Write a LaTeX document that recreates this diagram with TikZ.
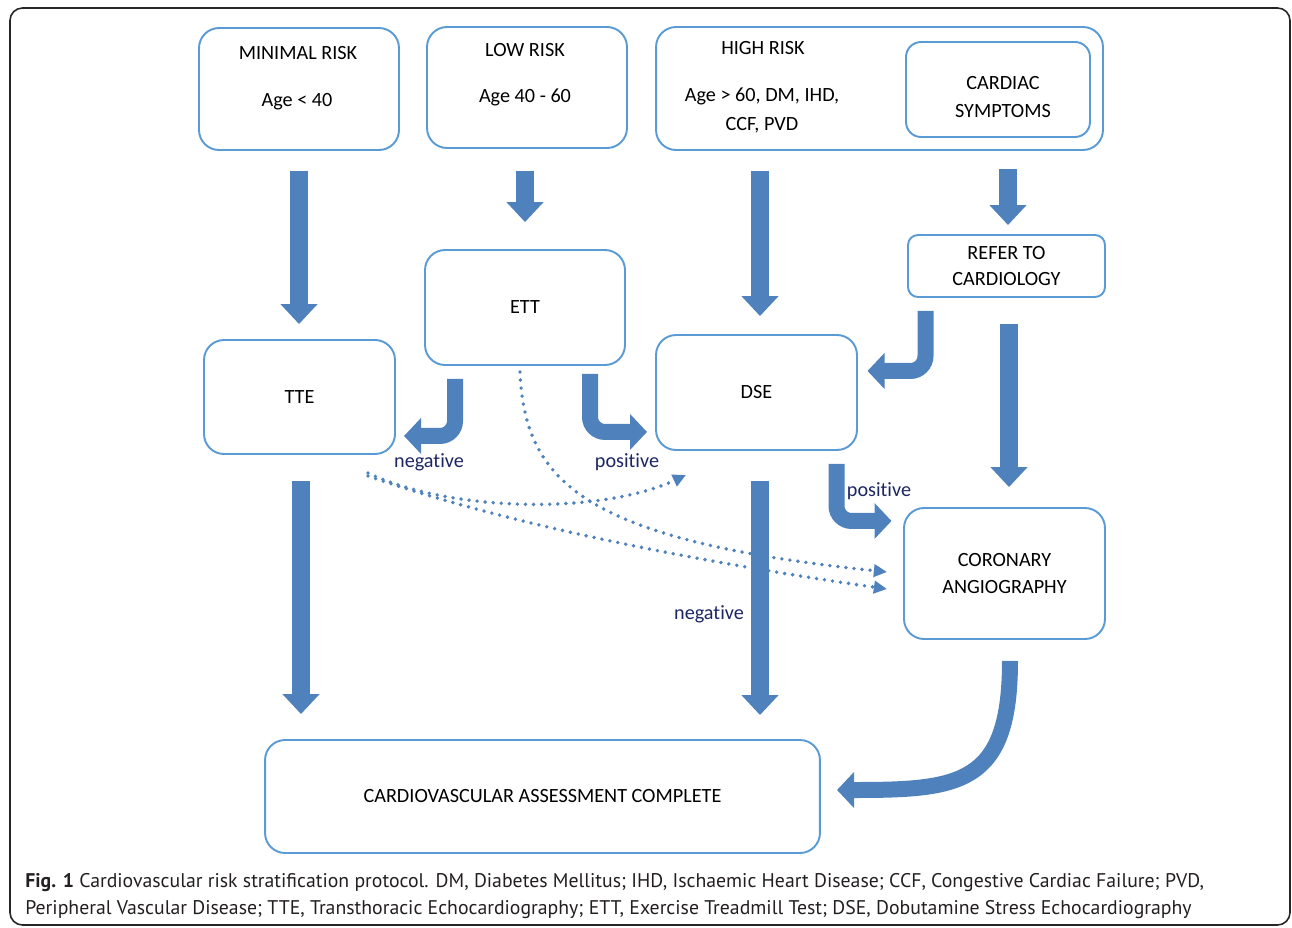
\documentclass[tikz,border=0pt]{standalone}
\usepackage{fontspec}
\setmainfont[Ligatures=NoCommon]{Carlito}
\newfontfamily\capfont{PT Sans}
\usetikzlibrary{arrows.meta}

\definecolor{boxblue}{RGB}{91,155,213}
\definecolor{arrowblue}{RGB}{79,129,189}
\definecolor{labelnavy}{RGB}{28,38,98}
\definecolor{captext}{RGB}{35,31,32}

\tikzset{
	box/.style={draw=boxblue, line width=1.1pt, rounded corners=0.4cm, inner sep=0pt, align=center, font=\fontsize{11.5}{15.5}\selectfont},
	boxtext/.style={inner sep=0pt, anchor=base, font=\fontsize{11.5}{14}\selectfont},
	bigarrow/.style={draw=arrowblue, line width=0.36cm, -{Triangle[length=0.4cm,width=0.72cm]}},
	bentarrow/.style={draw=arrowblue, line width=0.32cm, rounded corners=0.3cm, -{Triangle[length=0.34cm,width=0.7cm]}},
	dotarrow/.style={draw=arrowblue, line width=2.2pt, line cap=round, dash pattern=on 0pt off 4.6pt, -{Triangle[length=7.5pt,width=7pt]}},
	result/.style={text=labelnavy, inner sep=0pt, font=\fontsize{11.5}{14}\selectfont},
}

\begin{document}
\begin{tikzpicture}[x=0.02cm, y=-0.02cm]
	\useasboundingbox (0,0) rectangle (1292,927);
	\draw[line width=0.9pt, draw=black!85, rounded corners=0.25cm] (10,8) rectangle (1290,925);	% Moldura

	% Grupos de risco
	\node[box, minimum width=4cm, minimum height=2.44cm] (minimal) at (299,89) {};
	\node[boxtext] (minimaltitle) at (298,59.5) {MINIMAL RISK};
	\node[boxtext] (minimalage) at (297,106.5) {Age < 40};
	\node[box, minimum width=4cm, minimum height=2.42cm] (low) at (527,87.5) {};
	\node[boxtext] (lowtitle) at (525,56.5) {LOW RISK};
	\node[boxtext] (lowage) at (525,102.5) {Age 40 - 60};
	\node[box, minimum width=8.94cm, minimum height=2.46cm] (high) at (879.5,88.5) {};
	\node[boxtext] (hightitle) at (763,54.5) {HIGH RISK};
	\node[boxtext] (highage) at (762,101.5) {Age > 60, DM, IHD,};
	\node[boxtext] (highcond) at (762,130.5) {CCF, PVD};
	\node[box, rounded corners=0.3cm, minimum width=3.68cm, minimum height=1.9cm] (cardiac) at (998,89.5) {};
	\node[boxtext, anchor=center, align=center, font=\fontsize{11.5}{15.9}\selectfont] (cardiactext) at (1003,97) {CARDIAC\\SYMPTOMS};

	% Exames
	\node[box, minimum width=4cm, minimum height=2.3cm] (ett) at (525,307.5) {ETT};
	\node[box, minimum width=3.82cm, minimum height=2.28cm] (tte) at (299.5,397) {TTE};
	\node[box, rounded corners=0.2cm, minimum width=3.94cm, minimum height=1.24cm, font=\fontsize{11.5}{14.8}\selectfont] (refer) at (1006.5,266) {REFER TO\\CARDIOLOGY};
	\node[box, minimum width=4.02cm, minimum height=2.3cm] (dse) at (756.5,392.5) {DSE};
	\node[box, minimum width=4.02cm, minimum height=2.62cm, font=\fontsize{11.5}{15.9}\selectfont] (coronary) at (1004.5,573.5) {CORONARY\\ANGIOGRAPHY};
	\node[box, minimum width=11.1cm, minimum height=2.26cm] (complete) at (542.5,796.5) {CARDIOVASCULAR ASSESSMENT COMPLETE};

	% Setas pontilhadas
	\coordinate (tteout1) at (368,473);
	\coordinate (tteout2) at (368,476);
	\coordinate (ettout) at (520,372);
	\coordinate (dsein) at (686,475);
	\coordinate (corin1) at (887,572);
	\coordinate (corin2) at (887,589);
	\draw[dotarrow] (tteout1) .. controls (450,512) and (600,515) .. (dsein);
	\draw[dotarrow] (tteout2) .. controls (480,515) and (650,555) .. (corin2);
	\draw[dotarrow] (ettout) .. controls (525,480) and (580,540) .. (corin1);

	% Setas principais
	\draw[bigarrow, shorten <=0.4cm, shorten >=0.3cm] (minimal.south) -- (minimal.south |- tte.north);
	\draw[bigarrow, shorten <=0.44cm, shorten >=0.54cm] (ett.north |- low.south) -- (ett.north);
	\draw[bigarrow, shorten <=0.4cm, shorten >=0.36cm] (high.south -| 760,0) -- (dse.north -| 760,0);
	\draw[bigarrow, shorten <=0.36cm, shorten >=0.18cm] (high.south -| 1008,0) -- (refer.north -| 1008,0);
	\draw[bigarrow, shorten <=0.52cm, shorten >=0.4cm] (refer.south -| 1009,0) -- (coronary.north -| 1009,0);
	\draw[bigarrow, shorten <=0.52cm, shorten >=0.5cm] (tte.south -| 301,0) -- (complete.north -| 301,0);
	\draw[bigarrow, shorten <=0.6cm, shorten >=0.48cm] (dse.south -| 760,0) -- (complete.north -| 760,0);

	% Setas curvas
	\draw[bentarrow] (ett.south) ++(-70,13) |- ++(-51,57);
	\draw[bentarrow] (ett.south) ++(65,8) |- ++(57,58);
	\draw[bentarrow] (refer.south) ++(-81,13) |- ++(-58,60);
	\draw[bentarrow] (dse.south) ++(80,13) |- ++(55,57);
	\draw[bentarrow, rounded corners=0pt] (coronary.south) ++(5.5,21) .. controls (1010,785) and (960,790) .. (837,790);

	% Resultados
	\node[result] (ettneg) at (429,462) {negative};
	\node[result] (ettpos) at (627,462) {positive};
	\node[result] (dsepos) at (879,491) {positive};
	\node[result] (dseneg) at (709,614) {negative};

	% Legenda
	\node[anchor=base west, inner sep=0pt, text=captext, font=\capfont\fontsize{11.25}{12}\selectfont] (caption1) at (25,887) {\textbf{Fig. 1} Cardiovascular risk stratification protocol. DM, Diabetes Mellitus; IHD, Ischaemic Heart Disease; CCF, Congestive Cardiac Failure; PVD,};
	\node[anchor=base west, inner sep=0pt, text=captext, font=\capfont\fontsize{11.25}{12}\selectfont] (caption2) at (25,914) {Peripheral Vascular Disease; TTE, Transthoracic Echocardiography; ETT, Exercise Treadmill Test; DSE, Dobutamine Stress Echocardiography};
\end{tikzpicture}
\end{document}
